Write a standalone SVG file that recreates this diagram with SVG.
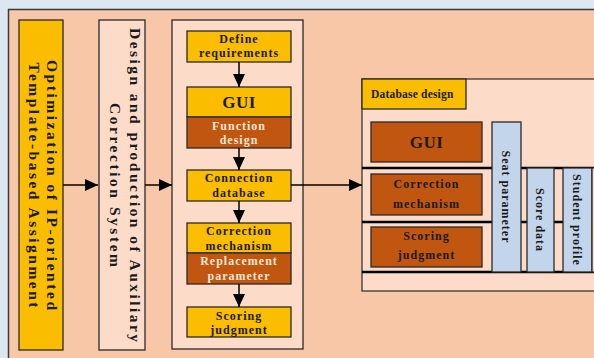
<svg xmlns="http://www.w3.org/2000/svg" width="594" height="358" viewBox="0 0 594 358">
<style>
.t{font-family:"Liberation Serif","Times New Roman",serif;font-weight:bold;fill:#1a1a1a}
.s{font-size:12px;text-anchor:middle;letter-spacing:1px}
.w{fill:#f6e8d4}
.big{font-size:17px;text-anchor:middle;letter-spacing:0.5px}
.yel{fill:#fbbd00;stroke:#2a2a2a;stroke-width:1.3}
.org{fill:#c0560f;stroke:#2a2a2a;stroke-width:1.3}
.lp{fill:#fcdcc8;stroke:#2a2a2a;stroke-width:1.3}
.blu{fill:#c2d5ea;stroke:#2a2a2a;stroke-width:1.3}
.ln{stroke:#000;stroke-width:1.5;fill:none}
</style>
<defs>
<marker id="ah" markerUnits="userSpaceOnUse" markerWidth="14" markerHeight="12" refX="13" refY="6" orient="auto">
<path d="M0,0 L13,6 L0,12 Z" fill="#000"/>
</marker>
</defs>
<rect x="0" y="0" width="594" height="358" fill="#dde7f1"/>
<rect x="8.5" y="9.5" width="600" height="360" fill="#f8c7a7" stroke="#3a3a3a" stroke-width="1.5"/>

<g id="n1">
<rect class="yel" x="19" y="20" width="44" height="330"/>
<text class="t" font-size="15.5" text-anchor="middle" transform="translate(47,185) rotate(90)" textLength="250" lengthAdjust="spacing">Optimization of IP-oriented</text>
<text class="t" font-size="15.5" text-anchor="middle" transform="translate(29,185) rotate(90)" textLength="245" lengthAdjust="spacing">Template-based Assignment</text>
</g>

<g id="n2">
<rect class="lp" x="99" y="20" width="46" height="330"/>
<text class="t" font-size="15.5" text-anchor="middle" transform="translate(130,185) rotate(90)" textLength="314" lengthAdjust="spacing">Design and production of Auxiliary</text>
<text class="t" font-size="15.5" text-anchor="middle" transform="translate(109.5,185) rotate(90)" textLength="164" lengthAdjust="spacing">Correction System</text>
</g>

<g id="n3">
<rect class="lp" x="172" y="20" width="131" height="329"/>
</g>

<g id="define">
<rect class="yel" x="187" y="31" width="104" height="31"/>
<text class="t s" x="239" y="43">Define</text>
<text class="t s" x="239" y="57">requirements</text>
</g>
<g id="gui1">
<rect class="yel" x="187" y="87" width="104" height="30"/>
<text class="t big" x="239" y="108">GUI</text>
<rect class="org" x="187" y="117" width="104" height="31"/>
<text class="t s w" x="239" y="130">Function</text>
<text class="t s w" x="239" y="144">design</text>
</g>
<g id="conn">
<rect class="yel" x="187" y="170" width="104" height="31"/>
<text class="t s" x="239" y="182">Connection</text>
<text class="t s" x="239" y="197">database</text>
</g>
<g id="corr1">
<rect class="yel" x="187" y="223" width="104" height="30"/>
<text class="t s" x="239" y="235">Correction</text>
<text class="t s" x="239" y="250">mechanism</text>
<rect class="org" x="187" y="253" width="104" height="31"/>
<text class="t s w" x="239" y="265">Replacement</text>
<text class="t s w" x="239" y="280">parameter</text>
</g>
<g id="score1">
<rect class="yel" x="187" y="307" width="104" height="30"/>
<text class="t s" x="239" y="320">Scoring</text>
<text class="t s" x="239" y="334">judgment</text>
</g>

<g id="dbpanel">
<rect x="362" y="79" width="240" height="212" fill="#fcdcc8" stroke="#2a2a2a" stroke-width="1.2"/>
<line x1="362" y1="168" x2="594" y2="168" stroke="#000" stroke-width="2.5"/>
<line x1="362" y1="222" x2="594" y2="222" stroke="#000" stroke-width="2.5"/>
<line x1="362" y1="272" x2="594" y2="272" stroke="#000" stroke-width="2.5"/>
<rect class="yel" x="362" y="79" width="104" height="30"/>
<text class="t" font-size="11.5" letter-spacing="0.2" x="371" y="98">Database design</text>
</g>
<g id="gui2">
<rect class="org" x="371" y="122" width="111" height="40"/>
<text class="t big" x="426.5" y="148">GUI</text>
</g>
<g id="corr2">
<rect class="org" x="371" y="174" width="111" height="41"/>
<text class="t s" x="426.5" y="188">Correction</text>
<text class="t s" x="426.5" y="208">mechanism</text>
</g>
<g id="score2">
<rect class="org" x="371" y="227" width="111" height="40"/>
<text class="t s" x="426.5" y="240">Scoring</text>
<text class="t s" x="426.5" y="259">judgment</text>
</g>
<g id="seat">
<rect class="blu" x="492" y="122" width="29" height="150"/>
<text class="t s" transform="translate(502,197) rotate(90)">Seat parameter</text>
</g>
<g id="scoredata">
<rect class="blu" x="527" y="168" width="27" height="104"/>
<text class="t s" transform="translate(536,220) rotate(90)">Score data</text>
</g>
<g id="student">
<rect class="blu" x="563" y="168" width="29" height="104"/>
<text class="t s" transform="translate(573,220) rotate(90)">Student profile</text>
</g>
<g id="nextcol">
<rect class="lp" x="592" y="168" width="20" height="104"/>
</g>

<g id="connectors">
<line class="ln" x1="63" y1="185" x2="98" y2="185" marker-end="url(#ah)"/>
<line class="ln" x1="145" y1="185" x2="172" y2="185" marker-end="url(#ah)"/>
<line class="ln" x1="291" y1="185" x2="362" y2="185" marker-end="url(#ah)"/>
<line class="ln" x1="239" y1="62" x2="239" y2="87" marker-end="url(#ah)"/>
<line class="ln" x1="239" y1="148" x2="239" y2="170" marker-end="url(#ah)"/>
<line class="ln" x1="239" y1="201" x2="239" y2="223" marker-end="url(#ah)"/>
<line class="ln" x1="239" y1="284" x2="239" y2="307" marker-end="url(#ah)"/>
</g>
</svg>
